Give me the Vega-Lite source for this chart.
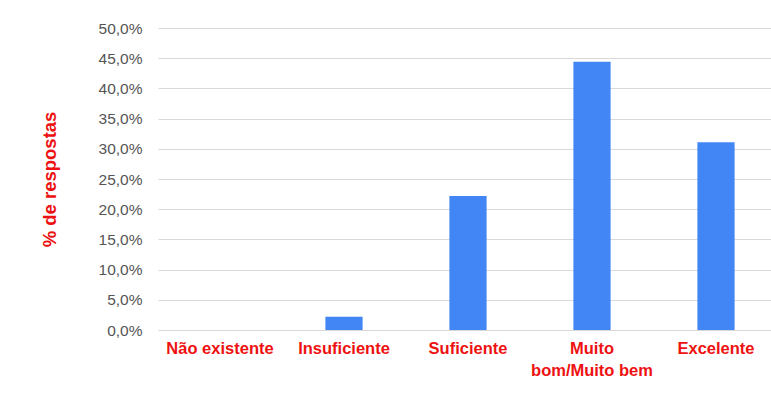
{
  "$schema": "https://vega.github.io/schema/vega-lite/v6.json",
  "autosize": "none",
  "width": 620,
  "height": 302,
  "padding": {"left": 158, "top": 28, "right": 0, "bottom": 75},
  "background": "white",
  "config": {
    "locale": {"number": {"decimal": ",", "thousands": ".", "grouping": [3], "currency": ["", " €"]}},
    "view": {"stroke": null},
    "font": "Liberation Sans"
  },
  "data": {
    "values": [
      {"categoria": "Não existente", "pct": 0.0},
      {"categoria": "Insuficiente", "pct": 0.022},
      {"categoria": "Suficiente", "pct": 0.222},
      {"categoria": "Muito bom/Muito bem", "pct": 0.444},
      {"categoria": "Excelente", "pct": 0.311}
    ]
  },
  "mark": {"type": "bar", "color": "#4285F4"},
  "encoding": {
    "x": {
      "field": "categoria",
      "type": "nominal",
      "sort": null,
      "scale": {"paddingInner": 0.7, "paddingOuter": 0.35},
      "axis": {
        "title": null,
        "labelAngle": 0,
        "labelColor": "#ee1111",
        "labelFontWeight": "bold",
        "labelFontSize": 16.5,
        "labelPadding": 10,
        "labelLineHeight": 22,
        "labelExpr": "datum.label == 'Muito bom/Muito bem' ? ['Muito', 'bom/Muito bem'] : datum.label",
        "domain": false,
        "ticks": false
      }
    },
    "y": {
      "field": "pct",
      "type": "quantitative",
      "scale": {"domain": [0, 0.5]},
      "axis": {
        "title": "% de respostas",
        "titleColor": "#ee1111",
        "titleFontSize": 18.5,
        "titleFontWeight": "bold",
        "titlePadding": 39,
        "format": ".1%",
        "values": [0, 0.05, 0.1, 0.15, 0.2, 0.25, 0.3, 0.35, 0.4, 0.45, 0.5],
        "labelColor": "#555555",
        "labelFontSize": 15.5,
        "labelPadding": 16,
        "domain": false,
        "ticks": false,
        "gridColor": "#d9d9d9",
        "gridWidth": 1
      }
    }
  }
}
